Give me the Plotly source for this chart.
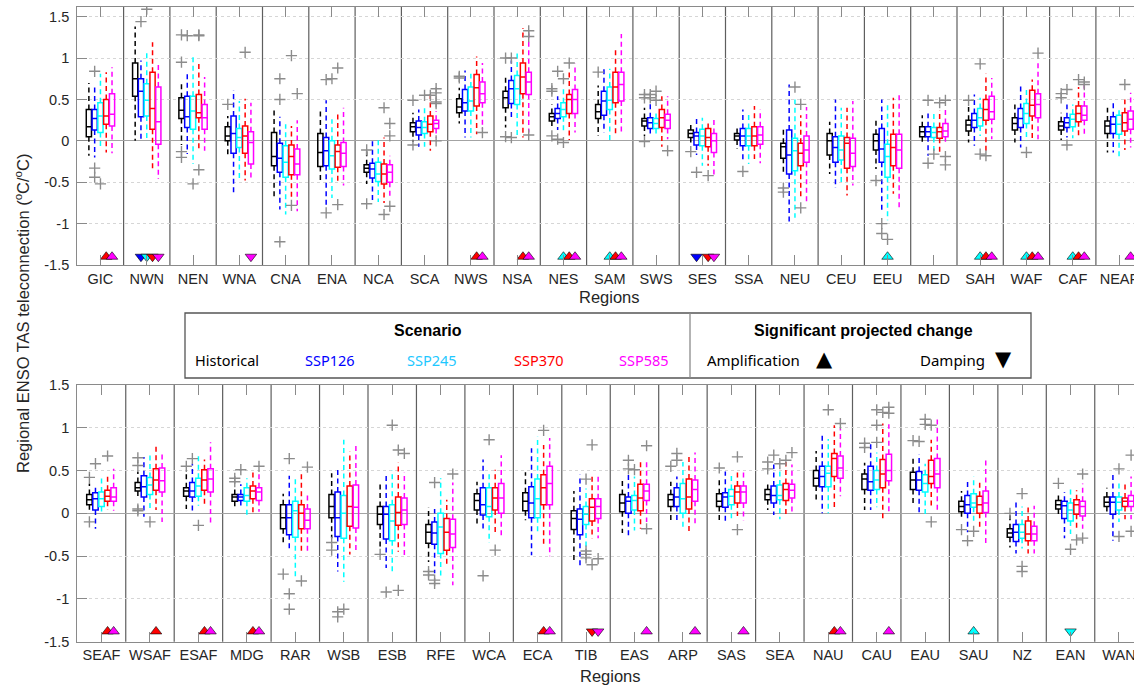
import plotly.graph_objects as go

# ---------------- data ----------------
TOP_REGIONS = ["GIC", "NWN", "NEN", "WNA", "CNA", "ENA", "NCA", "SCA", "NWS", "NSA", "NES", "SAM",
               "SWS", "SES", "SSA", "NEU", "CEU", "EEU", "MED", "SAH", "WAF", "CAF", "NEAF"]
BOT_REGIONS = ["SEAF", "WSAF", "ESAF", "MDG", "RAR", "WSB", "ESB", "RFE", "WCA", "ECA", "TIB", "EAS",
               "ARP", "SAS", "SEA", "NAU", "CAU", "EAU", "SAU", "NZ", "EAN", "WAN"]
SCENARIOS = ["Historical", "SSP126", "SSP245", "SSP370", "SSP585"]
BOX_COLORS = ["#000000", "#0000FF", "#00FFFF", "#FF0000", "#FF00FF"]
LEGEND_COLORS = ["#000000", "#0000FF", "#1EC8FF", "#FF0000", "#FF00FF"]
Y_TICKVALS = [-1.5, -1, -0.5, 0, 0.5, 1, 1.5]
Y_TICKTEXT = ["-1.5", "-1", "-0.5", "0", "0.5", "1", "1.5"]

# each entry: (lower whisker, q1, median, q3, upper whisker)
TOP_HIST = [(-0.18, 0.05, 0.17, 0.38, 0.70), (0.00, 0.54, 0.75, 0.94, 1.38), (-0.05, 0.27, 0.37, 0.52, 0.72),
            (-0.20, 0.00, 0.06, 0.17, 0.30), (-0.68, -0.30, -0.19, 0.10, 0.37), (-0.50, -0.31, -0.14, 0.09, 0.38),
            (-0.52, -0.38, -0.33, -0.29, -0.12), (-0.01, 0.11, 0.17, 0.22, 0.34), (0.21, 0.34, 0.41, 0.51, 0.64),
            (0.16, 0.40, 0.52, 0.60, 0.77), (0.17, 0.24, 0.29, 0.33, 0.44), (0.06, 0.27, 0.35, 0.44, 0.67),
            (0.06, 0.18, 0.24, 0.27, 0.40), (-0.02, 0.04, 0.09, 0.13, 0.22), (-0.10, 0.01, 0.06, 0.09, 0.18),
            (-0.40, -0.21, -0.07, -0.03, 0.17), (-0.40, -0.17, 0.00, 0.09, 0.23), (-0.34, -0.11, 0.00, 0.08, 0.27),
            (-0.04, 0.05, 0.11, 0.17, 0.31), (-0.02, 0.12, 0.19, 0.25, 0.41), (-0.02, 0.13, 0.21, 0.28, 0.44),
            (0.01, 0.13, 0.18, 0.23, 0.34), (-0.14, 0.09, 0.18, 0.24, 0.40)]
TOP_SSP126 = [(-0.20, 0.13, 0.27, 0.38, 0.68), (0.02, 0.29, 0.60, 0.75, 0.97), (-0.16, 0.16, 0.29, 0.54, 0.84),
              (-0.65, -0.15, 0.09, 0.30, 0.61), (-0.83, -0.38, -0.21, -0.03, 0.29), (-0.79, -0.30, -0.12, 0.04, 0.49),
              (-0.72, -0.45, -0.34, -0.27, 0.00), (-0.07, 0.07, 0.16, 0.24, 0.38), (0.04, 0.36, 0.46, 0.62, 0.85),
              (0.27, 0.45, 0.63, 0.73, 0.97), (0.13, 0.27, 0.33, 0.39, 0.54), (0.10, 0.31, 0.48, 0.60, 0.88),
              (0.09, 0.15, 0.22, 0.28, 0.46), (-0.17, -0.05, 0.06, 0.10, 0.28), (-0.24, -0.06, 0.06, 0.15, 0.38),
              (-1.00, -0.40, -0.17, 0.13, 0.68), (-0.57, -0.26, -0.08, 0.05, 0.50), (-0.85, -0.26, -0.10, 0.15, 0.50),
              (-0.18, 0.05, 0.11, 0.17, 0.33), (-0.06, 0.16, 0.25, 0.33, 0.56), (-0.08, 0.16, 0.27, 0.39, 0.69),
              (0.04, 0.16, 0.22, 0.28, 0.44), (-0.14, 0.09, 0.20, 0.29, 0.49)]
TOP_SSP245 = [(-0.10, 0.10, 0.30, 0.46, 0.81), (0.00, 0.30, 0.49, 0.69, 1.10), (-0.28, 0.14, 0.36, 0.54, 1.04),
              (-0.48, -0.08, 0.04, 0.15, 0.48), (-0.89, -0.44, -0.26, -0.06, 0.20), (-0.69, -0.34, -0.18, 0.00, 0.26),
              (-0.74, -0.49, -0.40, -0.26, 0.04), (-0.07, 0.09, 0.16, 0.23, 0.40), (0.04, 0.36, 0.48, 0.65, 0.81),
              (0.06, 0.44, 0.63, 0.79, 1.09), (0.10, 0.29, 0.38, 0.46, 0.64), (0.00, 0.38, 0.49, 0.65, 0.87),
              (0.06, 0.15, 0.21, 0.27, 0.36), (-0.30, -0.06, 0.06, 0.14, 0.28), (-0.28, -0.06, 0.06, 0.15, 0.32),
              (-0.93, -0.36, -0.12, 0.03, 0.50), (-0.52, -0.23, -0.11, 0.06, 0.40), (-0.96, -0.44, -0.19, -0.04, 0.44),
              (-0.14, 0.04, 0.10, 0.16, 0.36), (0.06, 0.18, 0.28, 0.39, 0.52), (0.00, 0.21, 0.33, 0.45, 0.63),
              (0.03, 0.17, 0.26, 0.32, 0.44), (-0.19, 0.08, 0.20, 0.31, 0.40)]
TOP_SSP370 = [(-0.14, 0.20, 0.30, 0.50, 0.83), (-0.36, 0.14, 0.39, 0.83, 1.19), (-0.10, 0.28, 0.34, 0.56, 0.95),
              (-0.48, -0.15, 0.06, 0.18, 0.51), (-0.69, -0.41, -0.19, -0.05, 0.18), (-0.52, -0.32, -0.13, -0.05, 0.32),
              (-0.75, -0.52, -0.40, -0.28, 0.04), (-0.12, 0.11, 0.20, 0.30, 0.60), (0.08, 0.42, 0.64, 0.80, 1.02),
              (0.04, 0.57, 0.77, 0.94, 1.36), (0.01, 0.33, 0.50, 0.56, 0.83), (0.07, 0.46, 0.65, 0.83, 1.13),
              (-0.07, 0.16, 0.28, 0.38, 0.54), (-0.30, -0.07, 0.04, 0.15, 0.23), (-0.22, -0.06, 0.06, 0.17, 0.42),
              (-0.67, -0.30, -0.15, -0.03, 0.31), (-0.66, -0.33, -0.03, 0.04, 0.40), (-0.64, -0.30, -0.08, 0.08, 0.52),
              (-0.17, 0.03, 0.11, 0.16, 0.37), (-0.12, 0.25, 0.38, 0.50, 0.81), (0.00, 0.30, 0.43, 0.61, 0.74),
              (0.06, 0.23, 0.33, 0.42, 0.65), (-0.11, 0.12, 0.22, 0.34, 0.50)]
TOP_SSP585 = [(-0.15, 0.18, 0.32, 0.57, 0.89), (-0.46, -0.04, 0.23, 0.65, 0.94), (-0.12, 0.14, 0.28, 0.44, 0.77),
              (-0.48, -0.28, -0.02, 0.11, 0.46), (-0.85, -0.41, -0.28, -0.10, 0.25), (-0.54, -0.31, -0.15, -0.02, 0.40),
              (-0.69, -0.50, -0.38, -0.29, -0.18), (0.04, 0.15, 0.21, 0.25, 0.36), (0.14, 0.46, 0.57, 0.71, 0.94),
              (0.10, 0.56, 0.71, 0.83, 1.32), (0.10, 0.33, 0.50, 0.62, 0.93), (0.11, 0.48, 0.68, 0.83, 1.29),
              (0.02, 0.15, 0.25, 0.32, 0.54), (-0.44, -0.14, 0.00, 0.09, 0.26), (-0.27, -0.04, 0.07, 0.17, 0.38),
              (-0.73, -0.26, -0.11, 0.06, 0.41), (-0.54, -0.31, -0.15, 0.03, 0.48), (-0.83, -0.33, -0.11, 0.08, 0.58),
              (-0.05, 0.05, 0.12, 0.21, 0.38), (0.02, 0.26, 0.35, 0.54, 0.76), (0.02, 0.28, 0.44, 0.57, 0.97),
              (0.08, 0.25, 0.31, 0.42, 0.69), (-0.08, 0.14, 0.26, 0.36, 0.58)]

BOT_HIST = [(0.04, 0.10, 0.16, 0.22, 0.35), (0.17, 0.26, 0.30, 0.36, 0.49), (0.05, 0.20, 0.26, 0.30, 0.47),
            (0.05, 0.14, 0.19, 0.22, 0.30), (-0.38, -0.18, -0.05, 0.10, 0.23), (-0.29, -0.05, 0.08, 0.22, 0.47),
            (-0.42, -0.13, -0.01, 0.08, 0.37), (-0.57, -0.35, -0.22, -0.13, 0.07), (-0.14, 0.04, 0.15, 0.23, 0.37),
            (-0.08, 0.03, 0.14, 0.24, 0.48), (-0.55, -0.19, -0.06, 0.03, 0.26), (-0.23, 0.02, 0.12, 0.22, 0.40),
            (-0.08, 0.08, 0.16, 0.22, 0.37), (-0.08, 0.08, 0.14, 0.23, 0.40), (0.04, 0.16, 0.22, 0.28, 0.36),
            (0.13, 0.32, 0.41, 0.50, 0.73), (0.04, 0.28, 0.40, 0.46, 0.59), (0.08, 0.28, 0.39, 0.48, 0.64),
            (-0.07, 0.02, 0.08, 0.14, 0.26), (-0.40, -0.28, -0.23, -0.18, 0.01), (-0.03, 0.05, 0.10, 0.15, 0.25),
            (0.00, 0.08, 0.13, 0.19, 0.30)]
BOT_SSP126 = [(-0.18, 0.04, 0.17, 0.24, 0.32), (-0.04, 0.19, 0.31, 0.44, 0.66), (0.01, 0.19, 0.26, 0.36, 0.58),
              (0.05, 0.15, 0.19, 0.22, 0.34), (-0.45, -0.25, -0.05, 0.10, 0.44), (-0.68, -0.27, -0.05, 0.25, 0.51),
              (-0.64, -0.30, -0.01, 0.08, 0.46), (-0.70, -0.36, -0.23, -0.10, 0.05), (-0.20, -0.02, 0.10, 0.30, 0.63),
              (-0.49, -0.05, 0.12, 0.31, 0.76), (-0.61, -0.25, -0.07, 0.05, 0.45), (-0.29, 0.00, 0.14, 0.19, 0.45),
              (-0.09, 0.08, 0.19, 0.30, 0.43), (-0.09, 0.07, 0.19, 0.24, 0.49), (-0.02, 0.12, 0.21, 0.32, 0.57),
              (0.00, 0.31, 0.43, 0.55, 0.91), (0.04, 0.27, 0.37, 0.55, 0.83), (-0.01, 0.27, 0.39, 0.49, 0.69),
              (-0.22, 0.00, 0.10, 0.21, 0.39), (-0.47, -0.33, -0.22, -0.13, 0.14), (-0.29, -0.06, 0.09, 0.14, 0.25),
              (-0.32, -0.01, 0.13, 0.19, 0.46)]
BOT_SSP245 = [(-0.02, 0.08, 0.17, 0.25, 0.41), (0.05, 0.22, 0.33, 0.42, 0.68), (0.09, 0.20, 0.32, 0.41, 0.67),
              (-0.05, 0.14, 0.21, 0.30, 0.41), (-0.74, -0.28, 0.03, 0.14, 0.43), (-0.80, -0.29, 0.00, 0.21, 0.86),
              (-0.70, -0.32, -0.09, 0.10, 0.50), (-0.74, -0.47, -0.16, 0.00, 0.41), (-0.34, -0.04, 0.08, 0.30, 0.49),
              (-0.24, -0.05, 0.17, 0.40, 0.90), (-0.40, -0.13, -0.01, 0.08, 0.29), (-0.20, 0.04, 0.15, 0.21, 0.43),
              (-0.18, 0.00, 0.17, 0.35, 0.60), (-0.07, 0.10, 0.20, 0.28, 0.45), (-0.07, 0.16, 0.21, 0.33, 0.51),
              (0.00, 0.31, 0.47, 0.55, 0.87), (0.07, 0.28, 0.39, 0.50, 0.71), (-0.02, 0.25, 0.35, 0.45, 0.58),
              (-0.09, 0.07, 0.12, 0.23, 0.43), (-0.41, -0.29, -0.22, -0.13, 0.08), (-0.24, -0.09, 0.04, 0.12, 0.31),
              (-0.10, 0.04, 0.13, 0.19, 0.37)]
BOT_SSP370 = [(0.04, 0.14, 0.20, 0.27, 0.45), (0.04, 0.27, 0.39, 0.52, 0.80), (0.08, 0.27, 0.39, 0.51, 0.63),
              (-0.01, 0.17, 0.26, 0.32, 0.51), (-0.47, -0.18, 0.00, 0.10, 0.46), (-0.48, -0.15, 0.08, 0.32, 0.72),
              (-0.45, -0.14, 0.01, 0.19, 0.59), (-0.60, -0.43, -0.22, -0.06, 0.16), (-0.24, 0.04, 0.18, 0.30, 0.51),
              (-0.38, 0.10, 0.30, 0.45, 0.80), (-0.29, -0.09, 0.07, 0.17, 0.46), (-0.18, 0.03, 0.18, 0.34, 0.62),
              (-0.24, 0.05, 0.19, 0.40, 0.67), (-0.03, 0.12, 0.25, 0.32, 0.51), (-0.02, 0.15, 0.28, 0.35, 0.60),
              (0.07, 0.43, 0.64, 0.70, 1.03), (-0.08, 0.30, 0.46, 0.63, 1.05), (0.08, 0.35, 0.43, 0.62, 0.86),
              (-0.18, 0.00, 0.10, 0.20, 0.36), (-0.47, -0.32, -0.24, -0.09, 0.07), (-0.20, -0.01, 0.10, 0.16, 0.27),
              (-0.07, 0.08, 0.14, 0.18, 0.37)]
BOT_SSP585 = [(0.03, 0.14, 0.19, 0.30, 0.52), (-0.10, 0.25, 0.38, 0.53, 0.71), (-0.13, 0.25, 0.40, 0.52, 0.83),
              (0.02, 0.15, 0.25, 0.30, 0.48), (-0.46, -0.18, -0.08, 0.05, 0.25), (-0.46, -0.17, 0.07, 0.33, 0.81),
              (-0.51, -0.13, 0.04, 0.18, 0.48), (-0.84, -0.40, -0.24, -0.07, 0.36), (-0.26, 0.00, 0.18, 0.35, 0.68),
              (-0.50, 0.10, 0.35, 0.55, 0.88), (-0.29, -0.06, 0.08, 0.17, 0.46), (-0.10, 0.15, 0.26, 0.34, 0.62),
              (-0.15, 0.14, 0.28, 0.39, 0.71), (-0.08, 0.12, 0.25, 0.32, 0.51), (-0.02, 0.18, 0.27, 0.34, 0.57),
              (0.20, 0.41, 0.53, 0.67, 0.99), (0.02, 0.38, 0.50, 0.69, 1.04), (0.02, 0.30, 0.46, 0.64, 1.10),
              (-0.37, 0.01, 0.12, 0.26, 0.62), (-0.47, -0.32, -0.24, -0.15, 0.09), (-0.18, -0.03, 0.08, 0.14, 0.35),
              (-0.07, 0.08, 0.14, 0.21, 0.43)]

# outliers: (region index, scenario index, value)
TOP_OUTLIERS = [(0, 1, 0.84), (0, 1, -0.33), (0, 1, -0.44), (0, 2, -0.52), (1, 1, 1.44), (1, 2, 1.59),
                (2, 0, 1.28), (2, 1, 1.27), (2, 0, 0.95), (2, 0, -0.13), (2, 0, -0.20), (2, 2, -0.52),
                (2, 3, 1.28), (2, 3, 1.27), (2, 3, -0.35), (3, 0, 0.44), (3, 3, 1.07),
                (4, 1, 0.75), (4, 1, 0.50), (4, 1, -1.22), (4, 3, 1.03), (4, 4, 0.57), (4, 3, -0.78),
                (5, 1, 0.74), (5, 2, 0.75), (5, 3, 0.88), (5, 1, -0.87), (5, 3, -0.77),
                (6, 0, -0.11), (6, 0, -0.76), (6, 3, 0.40), (6, 4, 0.21), (6, 4, 0.06), (6, 4, -0.79), (6, 3, -0.89),
                (7, 0, 0.49), (7, 2, 0.55), (7, 3, 0.55), (7, 4, 0.63), (7, 4, 0.58), (7, 4, 0.47), (7, 4, 0.45),
                (7, 0, -0.05), (7, 4, 0.00), (8, 0, 0.78), (8, 0, 0.76), (8, 4, 0.10),
                (9, 0, 1.00), (9, 1, 1.00), (9, 0, 0.05), (9, 1, 0.04), (9, 4, 1.33), (9, 4, 1.26), (9, 4, 0.07),
                (10, 1, 0.84), (10, 2, 0.75), (10, 0, 0.63), (10, 0, 0.60), (10, 0, 0.06), (10, 1, 0.02),
                (10, 2, -0.02), (10, 3, 0.94), (11, 0, 0.83),
                (12, 0, 0.56), (12, 0, 0.52), (12, 1, 0.56), (12, 1, 0.52), (12, 2, 0.60), (12, 2, 0.49),
                (12, 0, -0.01), (12, 4, -0.12), (13, 0, -0.13), (13, 1, -0.38), (13, 3, -0.42), (14, 1, -0.37),
                (15, 0, -0.57), (15, 0, -0.62), (15, 2, 0.65), (15, 3, 0.44), (15, 3, -0.81),
                (17, 0, -0.48), (17, 1, -1.00), (17, 1, -1.12), (17, 2, -1.19),
                (18, 1, 0.49), (18, 1, -0.27), (18, 2, -0.16), (18, 3, 0.46), (18, 4, 0.49), (18, 4, -0.19),
                (18, 4, -0.29), (19, 0, 0.49), (19, 2, 0.93), (19, 2, -0.16), (19, 3, -0.18),
                (20, 4, 1.06), (20, 2, -0.14), (21, 1, 0.62), (21, 0, 0.57), (21, 0, 0.52), (21, 3, 0.74),
                (21, 4, 0.71), (21, 4, 0.68), (21, 1, -0.05), (22, 3, 0.68)]
BOT_OUTLIERS = [(0, 0, 0.42), (0, 0, -0.10), (0, 1, 0.58), (0, 3, 0.67),
                (1, 0, 0.65), (1, 0, 0.56), (1, 0, 0.05), (1, 0, 0.03), (1, 2, -0.10),
                (2, 0, 0.55), (2, 1, 0.64), (2, 2, -0.14), (3, 0, 0.41), (3, 0, 0.37), (3, 1, 0.51), (3, 4, 0.55),
                (4, 1, 0.64), (4, 0, -0.71), (4, 1, -0.94), (4, 1, -1.12), (4, 3, -0.79), (4, 4, 0.54),
                (5, 0, -0.34), (5, 0, -0.43), (5, 1, -1.15), (5, 1, -1.21), (5, 2, -1.12),
                (6, 0, -0.48), (6, 2, 1.03), (6, 1, -0.92), (6, 3, -0.90), (6, 3, 0.74), (6, 4, 0.70),
                (7, 0, -0.68), (7, 0, -0.72), (7, 1, -0.82), (7, 1, -0.78), (7, 1, 0.36), (7, 4, 0.46),
                (8, 2, 0.86), (8, 1, -0.73), (8, 3, -0.43), (9, 3, 0.97),
                (10, 2, 0.40), (10, 3, 0.80), (10, 2, -0.44), (10, 2, -0.48), (10, 2, -0.52), (10, 3, -0.60),
                (10, 4, -0.53), (11, 1, 0.62), (11, 1, 0.52), (11, 2, 0.51), (11, 4, 0.79), (11, 4, -0.18),
                (12, 1, 0.70), (12, 1, 0.62), (12, 0, 0.55), (13, 0, 0.53), (13, 3, 0.66), (13, 3, -0.19),
                (14, 0, 0.60), (14, 0, 0.52), (14, 1, 0.68), (14, 2, 0.58), (14, 3, 0.62), (14, 4, 0.71),
                (15, 2, 1.21), (15, 4, 1.05),
                (16, 0, 0.82), (16, 0, 0.77), (16, 2, 0.83), (16, 2, 1.03), (16, 2, 1.21), (16, 3, 1.18),
                (16, 4, 1.24), (16, 4, 1.17),
                (17, 0, 0.85), (17, 1, 0.84), (17, 2, 1.10), (17, 2, 1.04), (17, 3, 1.03), (17, 3, -0.10),
                (18, 0, -0.19), (18, 1, -0.32), (18, 2, -0.21),
                (19, 0, 0.00), (19, 2, 0.23), (19, 2, -0.62), (19, 2, -0.68),
                (20, 0, 0.35), (20, 2, -0.42), (20, 3, -0.31), (20, 4, -0.29), (20, 4, 0.46),
                (21, 2, 0.52), (21, 4, 0.68), (21, 2, -0.27), (21, 4, -0.21)]

# significant projected change: (region index, scenario index, direction)
TOP_SIG = [(0, 3, "up"), (0, 4, "up"), (1, 1, "down"), (1, 2, "down"), (1, 3, "down"), (1, 4, "down"),
           (3, 4, "down"), (8, 3, "up"), (8, 4, "up"), (9, 3, "up"), (9, 4, "up"),
           (10, 2, "up"), (10, 3, "up"), (10, 4, "up"), (11, 2, "up"), (11, 3, "up"), (11, 4, "up"),
           (13, 1, "down"), (13, 3, "down"), (13, 4, "down"), (17, 2, "up"),
           (19, 2, "up"), (19, 3, "up"), (19, 4, "up"), (20, 2, "up"), (20, 3, "up"), (20, 4, "up"),
           (21, 2, "up"), (21, 3, "up"), (21, 4, "up"), (22, 4, "up")]
BOT_SIG = [(0, 3, "up"), (0, 4, "up"), (1, 3, "up"), (2, 3, "up"), (2, 4, "up"), (3, 3, "up"), (3, 4, "up"),
           (9, 3, "up"), (9, 4, "up"), (10, 3, "down"), (10, 4, "down"), (11, 4, "up"), (12, 4, "up"),
           (13, 4, "up"), (15, 3, "up"), (15, 4, "up"), (16, 4, "up"), (18, 2, "up"), (20, 2, "down")]

# ---------------- styling / geometry ----------------
W, H = 1134, 686
OFFSETS = [-0.25, -0.125, 0.0, 0.125, 0.25]
BOX_W = 0.112
FRAME = "#8a8a8a"
SEP = "#5e5e5e"
TXT = "#262626"
TICKFONT = dict(family="Liberation Sans, Arial, sans-serif", size=14.5, color=TXT)
OUT_COLOR = "#8c8c8c"

fig = go.Figure()


def add_panel(regions, stats, outliers, sig, xa, ya, sig_y):
    n = len(regions)
    for k, (series, col) in enumerate(zip(stats, BOX_COLORS)):
        pos = [i + OFFSETS[k] for i in range(n)]
        lo = [s[0] for s in series]
        q1 = [s[1] for s in series]
        md = [s[2] for s in series]
        q3 = [s[3] for s in series]
        hi = [s[4] for s in series]
        # dashed whiskers
        wx, wy = [], []
        for p, a, b, c, d in zip(pos, lo, q1, q3, hi):
            wx += [p, p, None, p, p, None]
            wy += [c, d, None, b, a, None]
        fig.add_trace(go.Scatter(x=wx, y=wy, mode="lines", xaxis=xa, yaxis=ya,
                                 line=dict(color=col, width=1.5, dash="5px,3.5px"),
                                 hoverinfo="skip", showlegend=False))
        fig.add_trace(go.Box(x=pos, q1=q1, median=md, q3=q3, lowerfence=q1, upperfence=q3,
                             orientation="v", width=BOX_W, whiskerwidth=0, boxpoints=False,
                             line=dict(color=col, width=1.5), fillcolor="rgba(0,0,0,0)",
                             xaxis=xa, yaxis=ya, hoverinfo="skip", showlegend=False))
    ox = [r + OFFSETS[s] for r, s, v in outliers]
    oy = [v for r, s, v in outliers]
    fig.add_trace(go.Scatter(x=ox, y=oy, mode="markers", xaxis=xa, yaxis=ya,
                             marker=dict(symbol="cross-thin", size=8,
                                         line=dict(color=OUT_COLOR, width=1.4)),
                             hoverinfo="skip", showlegend=False))
    for direction in ["up", "down"]:
        pts = [(r, s) for r, s, d in sig if d == direction]
        if not pts:
            continue
        fig.add_trace(go.Scatter(
            x=[r + OFFSETS[s] for r, s in pts], y=[sig_y] * len(pts), mode="markers",
            xaxis=xa, yaxis=ya,
            marker=dict(symbol="triangle-" + direction, size=10,
                        color=[BOX_COLORS[s] for r, s in pts],
                        line=dict(color="#000000", width=0.6)),
            hoverinfo="skip", showlegend=False))
    xref = "x" if xa == "x" else "x2"
    yref = ("y" if ya == "y" else "y2") + " domain"
    for i in range(n - 1):
        fig.add_shape(type="line", xref=xref, yref=yref, x0=i + 0.5, x1=i + 0.5, y0=0, y1=1,
                      line=dict(color=SEP, width=1.2), layer="below")


add_panel(TOP_REGIONS, [TOP_HIST, TOP_SSP126, TOP_SSP245, TOP_SSP370, TOP_SSP585],
          TOP_OUTLIERS, TOP_SIG, "x", "y", -1.40)
add_panel(BOT_REGIONS, [BOT_HIST, BOT_SSP126, BOT_SSP245, BOT_SSP370, BOT_SSP585],
          BOT_OUTLIERS, BOT_SIG, "x2", "y2", -1.38)

LEFT = 77.3
TOP_STEP = 46.3
BOT_STEP = 48.45


def xaxis_cfg(regions, step, anchor):
    return dict(domain=[LEFT / W, 1], range=[-0.5, -0.5 + (W - LEFT) / step],
                tickmode="array", tickvals=list(range(len(regions))), ticktext=regions,
                ticks="inside", ticklen=10, tickwidth=1, tickcolor=FRAME,
                showline=True, linecolor=FRAME, linewidth=1.3, mirror="ticks",
                showgrid=False, zeroline=False, tickfont=TICKFONT, anchor=anchor,
                automargin=False, fixedrange=True, ticklabeloverflow="allow")


def yaxis_cfg(top_px, bottom_px, rng, anchor):
    return dict(domain=[1 - bottom_px / H, 1 - top_px / H], range=rng,
                tickmode="array", tickvals=Y_TICKVALS, ticktext=Y_TICKTEXT,
                ticks="inside", ticklen=10, tickwidth=1, tickcolor=FRAME,
                showline=True, linecolor=FRAME, linewidth=1.3,
                showgrid=True, gridcolor="#d6d6d6", griddash="dot", gridwidth=1,
                zeroline=True, zerolinecolor="#a3a3a3", zerolinewidth=1.3,
                tickfont=TICKFONT, anchor=anchor, automargin=False, fixedrange=True,
                ticklabelstandoff=4)


fig.update_layout(
    width=W, height=H, margin=dict(l=0, r=0, t=0, b=0),
    paper_bgcolor="white", plot_bgcolor="white", showlegend=False,
    xaxis=xaxis_cfg(TOP_REGIONS, TOP_STEP, "y"),
    yaxis=yaxis_cfg(7, 265, [-1.5, 1.617], "x"),
    xaxis2=xaxis_cfg(BOT_REGIONS, BOT_STEP, "y2"),
    yaxis2=yaxis_cfg(385, 641.7, [-1.5, 1.5], "x2"),
)

ann = []
LABFONT = dict(family="Liberation Sans, Arial, sans-serif", size=16.5, color=TXT)
ann.append(dict(text="Regional ENSO TAS teleconnection (<sup>o</sup>C/<sup>o</sup>C)",
                x=21.5 / W, y=1 - 313.5 / H, xref="paper", yref="paper", textangle=-90,
                showarrow=False, xanchor="center", yanchor="middle", font=LABFONT))
ann.append(dict(text="Regions", x=609 / W, y=1 - 297 / H, xref="paper", yref="paper",
                showarrow=False, xanchor="center", yanchor="middle", font=LABFONT))
ann.append(dict(text="Regions", x=610 / W, y=1 - 676 / H, xref="paper", yref="paper",
                showarrow=False, xanchor="center", yanchor="middle", font=LABFONT))

# legend box
fig.add_shape(type="rect", xref="paper", yref="paper", x0=185 / W, x1=1031 / W,
              y0=1 - 378 / H, y1=1 - 313 / H, line=dict(color="#555555", width=1.3),
              fillcolor="white", layer="above")
fig.add_shape(type="line", xref="paper", yref="paper", x0=690 / W, x1=690 / W,
              y0=1 - 378 / H, y1=1 - 313 / H, line=dict(color="#8a8a8a", width=1.3), layer="above")
HEADFONT = dict(family="Liberation Sans, Arial, sans-serif", size=16, color="#000000")
ENTRYFONT = "Noto Sans, sans-serif"
ann.append(dict(text="<b>Scenario</b>", x=428 / W, y=1 - 330 / H, xref="paper", yref="paper",
                showarrow=False, xanchor="center", yanchor="middle", font=HEADFONT))
ann.append(dict(text="<b>Significant projected change</b>", x=863 / W, y=1 - 330 / H, xref="paper",
                yref="paper", showarrow=False, xanchor="center", yanchor="middle", font=HEADFONT))
LEG_X = [226.7, 329.5, 432, 539, 644]
for name, col, lx in zip(SCENARIOS, LEGEND_COLORS, LEG_X):
    ann.append(dict(text=name, x=lx / W, y=1 - 360 / H, xref="paper", yref="paper", showarrow=False,
                    xanchor="center", yanchor="middle", font=dict(family=ENTRYFONT, size=14.5, color=col)))
ann.append(dict(text="Amplification", x=753 / W, y=1 - 360 / H, xref="paper", yref="paper",
                showarrow=False, xanchor="center", yanchor="middle",
                font=dict(family=ENTRYFONT, size=15, color="#000000")))
ann.append(dict(text="Damping", x=952 / W, y=1 - 360 / H, xref="paper", yref="paper",
                showarrow=False, xanchor="center", yanchor="middle",
                font=dict(family=ENTRYFONT, size=15, color="#000000")))
ann.append(dict(text="\u25B2", x=824 / W, y=1 - 359 / H, xref="paper", yref="paper",
                showarrow=False, xanchor="center", yanchor="middle",
                font=dict(family="DejaVu Sans", size=21, color="#000000")))
ann.append(dict(text="\u25BC", x=1003 / W, y=1 - 359 / H, xref="paper", yref="paper",
                showarrow=False, xanchor="center", yanchor="middle",
                font=dict(family="DejaVu Sans", size=21, color="#000000")))
fig.update_layout(annotations=ann)

fig.write_html("out.html")
